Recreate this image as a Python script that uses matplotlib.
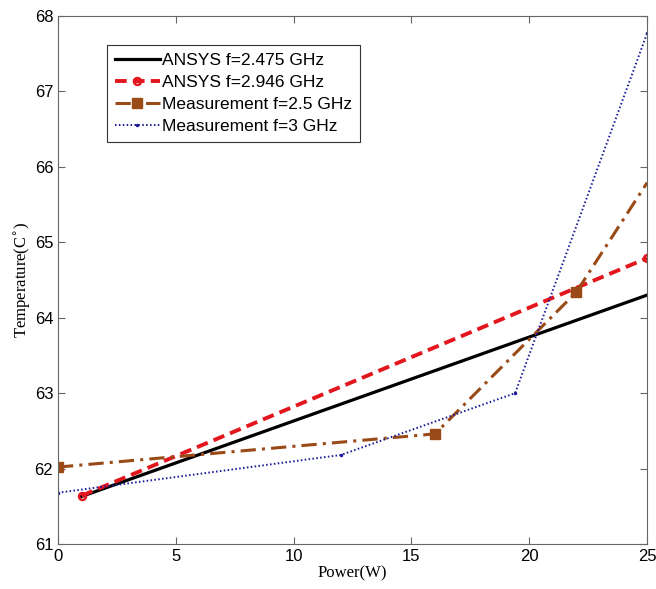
import matplotlib
matplotlib.use('Agg')
import matplotlib.pyplot as plt

# values
ansys1_x = [1, 25]
ansys1_y = [61.63, 64.30]
ansys2_x = [1, 25]
ansys2_y = [61.64, 64.79]
meas1_x = [0, 16, 22, 25]
meas1_y = [62.02, 62.46, 64.34, 65.79]
meas2_x = [0, 12, 19.4, 25]
meas2_y = [61.68, 62.18, 63.0, 67.77]

labels = ['ANSYS f=2.475 GHz', 'ANSYS f=2.946 GHz',
          'Measurement f=2.5 GHz', 'Measurement f=3 GHz']

plt.rcParams['font.family'] = 'Liberation Sans'

fig = plt.figure(figsize=(6.56, 5.89), dpi=100)
ax = fig.add_axes([0.0884, 0.0764, 0.898, 0.8964])

ax.plot(ansys1_x, ansys1_y, color='black', lw=2.3, label=labels[0])
ax.plot(ansys2_x, ansys2_y, color='#e3161e', lw=2.8, ls=(0, (3, 1.6)),
        marker='o', ms=5, mfc='none', mew=1.8, label=labels[1])
ax.plot(meas1_x, meas1_y, color='#9a4a17', lw=2.2, ls=(0, (5, 2, 1, 2)),
        marker='s', ms=6.5, markevery=[0, 1, 2], label=labels[2])
ax.plot(meas2_x, meas2_y, color='#1a1a9a', lw=1.4, ls=(0, (0.8, 1.2)),
        marker='.', ms=3, label=labels[3])

ax.set_xlim(0, 25)
ax.set_ylim(61, 68)
ax.set_xticks([0, 5, 10, 15, 20, 25])
ax.set_yticks(range(61, 69))
ax.tick_params(direction='in', top=True, right=True, labelsize=12,
               length=5, color='#666666')
for s in ax.spines.values():
    s.set_color('#666666')

ax.set_xlabel('Power(W)', fontfamily='Liberation Serif', fontsize=12, labelpad=1)
ax.set_ylabel('Temperature(C$^{\\circ}$)', fontfamily='Liberation Serif',
              fontsize=12, labelpad=1)

leg = ax.legend(loc='upper left', bbox_to_anchor=(0.083, 0.945), fontsize=12.5,
                fancybox=False, framealpha=1, edgecolor='#333333',
                handlelength=2.6, handletextpad=0.15, borderpad=0.45,
                labelspacing=0.4, borderaxespad=0)
leg.get_frame().set_linewidth(0.8)

fig.savefig('out.png', dpi=100)
